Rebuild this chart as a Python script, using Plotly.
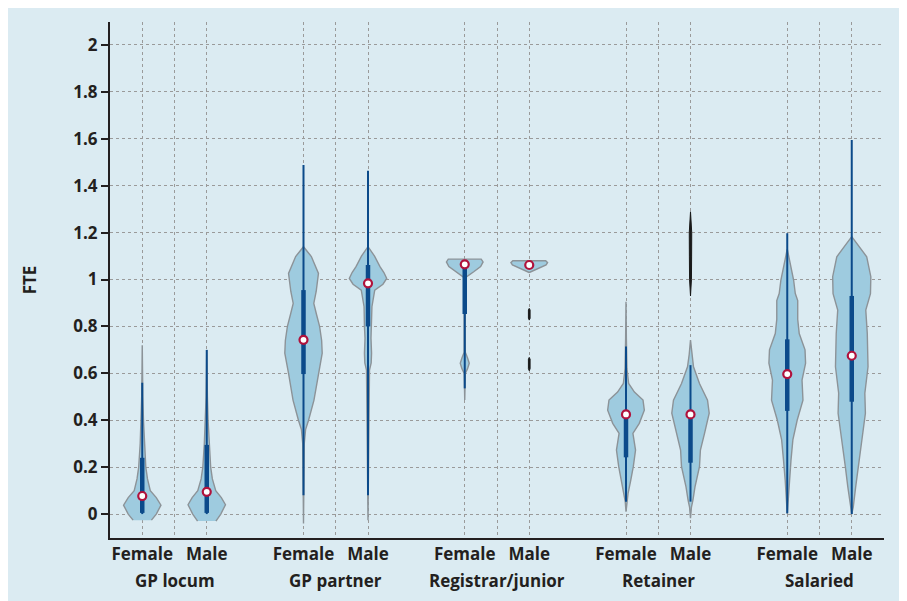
import plotly.graph_objects as go

# ---------------- data ----------------
groups = ["GP locum", "GP partner", "Registrar/junior", "Retainer", "Salaried"]
sexes = ["Female", "Male"]
y_tick_vals = [0, 0.2, 0.4, 0.6, 0.8, 1, 1.2, 1.4, 1.6, 1.8, 2]
y_tick_text = ["0", "0.2", "0.4", "0.6", "0.8", "1", "1.2", "1.4", "1.6", "1.8", "2"]

# violin outlines: FTE levels (ascending) and relative density (1 = widest)
locum_f_fte = [-0.026, 0.0, 0.038, 0.07, 0.10, 0.15, 0.20, 0.30, 0.40, 0.50, 0.60, 0.72]
locum_f_den = [0.49, 0.75, 1.0, 0.75, 0.43, 0.28, 0.19, 0.11, 0.065, 0.03, 0.015, 0.0]
locum_m_fte = [-0.03, 0.0, 0.04, 0.07, 0.10, 0.15, 0.20, 0.30, 0.40, 0.50, 0.60, 0.70]
locum_m_den = [0.49, 0.75, 1.0, 0.78, 0.48, 0.30, 0.21, 0.13, 0.07, 0.035, 0.015, 0.0]
partner_f_fte = [-0.04, 0.10, 0.30, 0.36, 0.40, 0.486, 0.60, 0.686, 0.74, 0.80, 0.85, 0.898, 0.95, 1.026, 1.098, 1.14]
partner_f_den = [0.0, 0.01, 0.04, 0.11, 0.27, 0.56, 0.80, 1.0, 0.97, 0.86, 0.70, 0.55, 0.68, 0.80, 0.42, 0.0]
partner_m_fte = [-0.026, 0.10, 0.30, 0.50, 0.614, 0.645, 0.686, 0.75, 0.80, 0.884, 0.955, 0.98, 1.005, 1.03, 1.055, 1.10, 1.14]
partner_m_den = [0.0, 0.01, 0.03, 0.06, 0.08, 0.17, 0.19, 0.16, 0.19, 0.21, 0.36, 0.80, 1.0, 0.85, 0.64, 0.35, 0.0]
registrar_f_fte = [0.486, 0.60, 0.62, 0.643, 0.665, 0.69, 0.80, 0.95, 1.009, 1.033, 1.055, 1.075, 1.087]
registrar_f_den = [0.0, 0.03, 0.15, 0.24, 0.15, 0.03, 0.02, 0.03, 0.05, 0.48, 0.85, 0.98, 0.88]
registrar_m_fte = [1.03, 1.045, 1.062, 1.072, 1.08]
registrar_m_den = [0.0, 0.40, 0.90, 0.98, 0.88]
retainer_f_fte = [0.01, 0.053, 0.088, 0.138, 0.202, 0.273, 0.31, 0.344, 0.387, 0.443, 0.486, 0.52, 0.557, 0.62, 0.75, 0.905]
retainer_f_den = [0.0, 0.04, 0.11, 0.24, 0.39, 0.51, 0.45, 0.37, 0.71, 0.98, 0.91, 0.45, 0.14, 0.05, 0.02, 0.0]
retainer_m_fte = [-0.018, 0.03, 0.06, 0.116, 0.202, 0.273, 0.344, 0.43, 0.486, 0.557, 0.628, 0.68, 0.742]
retainer_m_den = [0.0, 0.05, 0.13, 0.24, 0.48, 0.53, 0.75, 1.0, 0.91, 0.48, 0.16, 0.07, 0.0]
salaried_f_fte = [0.0, 0.145, 0.23, 0.316, 0.40, 0.486, 0.571, 0.643, 0.70, 0.77, 0.83, 0.91, 0.94, 0.998, 1.055, 1.11, 1.13]
salaried_f_den = [0.0, 0.11, 0.20, 0.30, 0.53, 0.84, 0.79, 0.98, 0.95, 0.64, 0.56, 0.56, 0.43, 0.34, 0.21, 0.05, 0.0]
salaried_m_fte = [0.0, 0.03, 0.116, 0.20, 0.316, 0.43, 0.515, 0.628, 0.77, 0.87, 0.94, 1.012, 1.097, 1.14, 1.183]
salaried_m_den = [0.0, 0.08, 0.21, 0.34, 0.52, 0.73, 0.70, 0.87, 0.83, 0.75, 1.0, 1.02, 0.80, 0.40, 0.0]

# box-plot statistics, order: locum F, locum M, partner F, partner M, registrar F, registrar M,
# retainer F, retainer M, salaried F, salaried M
whisker_lo = [0.0, 0.0, 0.08, 0.08, 0.536, 1.062, 0.053, 0.053, 0.004, 0.0]
whisker_hi = [0.56, 0.70, 1.488, 1.464, 1.075, 1.062, 0.714, 0.635, 1.197, 1.595]
q1 = [0.005, 0.005, 0.597, 0.80, 0.853, 1.062, 0.242, 0.219, 0.44, 0.479]
q3 = [0.24, 0.295, 0.955, 1.062, 1.075, 1.062, 0.425, 0.425, 0.745, 0.93]
median = [0.077, 0.095, 0.743, 0.984, 1.065, 1.062, 0.425, 0.425, 0.597, 0.675]

# small dark slivers: levels and relative density
sliver_retainer_m_fte = [0.93, 1.00, 1.10, 1.20, 1.289]
sliver_retainer_m_den = [0.0, 0.05, 0.06, 0.065, 0.0]
sliver_registrar_m1_fte = [0.827, 0.835, 0.87, 0.877]
sliver_registrar_m1_den = [0.0, 0.045, 0.045, 0.0]
sliver_registrar_m2_fte = [0.611, 0.62, 0.66, 0.668]
sliver_registrar_m2_den = [0.0, 0.045, 0.045, 0.0]

profiles = [
    (locum_f_fte, locum_f_den), (locum_m_fte, locum_m_den),
    (partner_f_fte, partner_f_den), (partner_m_fte, partner_m_den),
    (registrar_f_fte, registrar_f_den), (registrar_m_fte, registrar_m_den),
    (retainer_f_fte, retainer_f_den), (retainer_m_fte, retainer_m_den),
    (salaried_f_fte, salaried_f_den), (salaried_m_fte, salaried_m_den),
]
slivers = [
    (3, 1, sliver_retainer_m_fte, sliver_retainer_m_den),
    (2, 1, sliver_registrar_m1_fte, sliver_registrar_m1_den),
    (2, 1, sliver_registrar_m2_fte, sliver_registrar_m2_den),
]

# ---------------- style ----------------
BG = "#dbebf2"
FILL = "#9ecbdf"
OUTLINE = "#8c9398"
BLUE = "#0b4a8a"
RED = "#b0123c"
INK = "#231f20"
GRID = "#9a9a9a"
W = 0.58  # half-width of widest violin in x units
FONT = "Open Sans"
FS = 17


def pos(g, s):
    return 5 * g + 2 * s


fig = go.Figure()

for i, (fte, den) in enumerate(profiles):
    g, s = divmod(i, 2)
    cx = pos(g, s)
    xs = [cx + W * d for d in den] + [cx - W * d for d in reversed(den)]
    ys = list(fte) + list(reversed(fte))
    fig.add_trace(go.Scatter(x=xs, y=ys, mode="lines", fill="toself", fillcolor=FILL,
                             line=dict(color=OUTLINE, width=1.4), hoverinfo="skip",
                             showlegend=False))

for g, s, fte, den in slivers:
    cx = pos(g, s)
    xs = [cx + W * d for d in den] + [cx - W * d for d in reversed(den)]
    ys = list(fte) + list(reversed(fte))
    fig.add_trace(go.Scatter(x=xs, y=ys, mode="lines", fill="toself", fillcolor="#1a1a1a",
                             line=dict(color="#1a1a1a", width=1.0), hoverinfo="skip",
                             showlegend=False))

for i in range(len(median)):
    g, s = divmod(i, 2)
    cx = pos(g, s)
    if whisker_hi[i] > whisker_lo[i]:
        fig.add_trace(go.Scatter(x=[cx, cx], y=[whisker_lo[i], whisker_hi[i]], mode="lines",
                                 line=dict(color=BLUE, width=2), hoverinfo="skip",
                                 showlegend=False))
    if q3[i] > q1[i]:
        fig.add_trace(go.Scatter(x=[cx, cx], y=[q1[i], q3[i]], mode="lines",
                                 line=dict(color=BLUE, width=4.5), hoverinfo="skip",
                                 showlegend=False))

fig.add_trace(go.Scatter(
    x=[pos(*divmod(i, 2)) for i in range(len(median))], y=median, mode="markers",
    marker=dict(color="white", size=8, line=dict(color=RED, width=2.2)),
    hoverinfo="skip", showlegend=False))

# x ticks: Female / (centre) / Male per group
x_tick_vals = []
x_tick_text = []
for g in range(len(groups)):
    x_tick_vals += [pos(g, 0), pos(g, 0) + 1, pos(g, 1)]
    x_tick_text += [sexes[0], "", sexes[1]]

for g, name in enumerate(groups):
    fig.add_annotation(x=pos(g, 0) + 1, xref="x", y=-0.083, yref="paper",
                       text=name, showarrow=False, yanchor="middle",
                       font=dict(family=FONT, size=FS, color=INK, weight="bold"))

fig.update_layout(
    width=907, height=601,
    margin=dict(l=102, r=31, t=14, b=71),
    paper_bgcolor=BG, plot_bgcolor=BG,
    font=dict(family=FONT, size=FS, color=INK),
    xaxis=dict(range=[-1, 23], tickvals=x_tick_vals, ticktext=x_tick_text,
               showgrid=True, gridcolor=GRID, gridwidth=1, griddash="3px,3px",
               showline=True, linecolor=INK, linewidth=2, ticks="", zeroline=False,
               tickfont=dict(family=FONT, size=FS, color=INK, weight="bold")),
    yaxis=dict(range=[-0.102, 2.098], tickvals=y_tick_vals, ticktext=y_tick_text,
               showgrid=True, gridcolor=GRID, gridwidth=1, griddash="3px,3px",
               showline=True, linecolor=INK, linewidth=2, ticks="outside",
               ticklen=7, tickwidth=2, tickcolor=INK, zeroline=False,
               tickfont=dict(family=FONT, size=FS, color=INK, weight="bold"),
               title=dict(text="FTE", standoff=32,
                          font=dict(family=FONT, size=FS, color=INK, weight="bold"))),
)

fig.write_html("out.html")
